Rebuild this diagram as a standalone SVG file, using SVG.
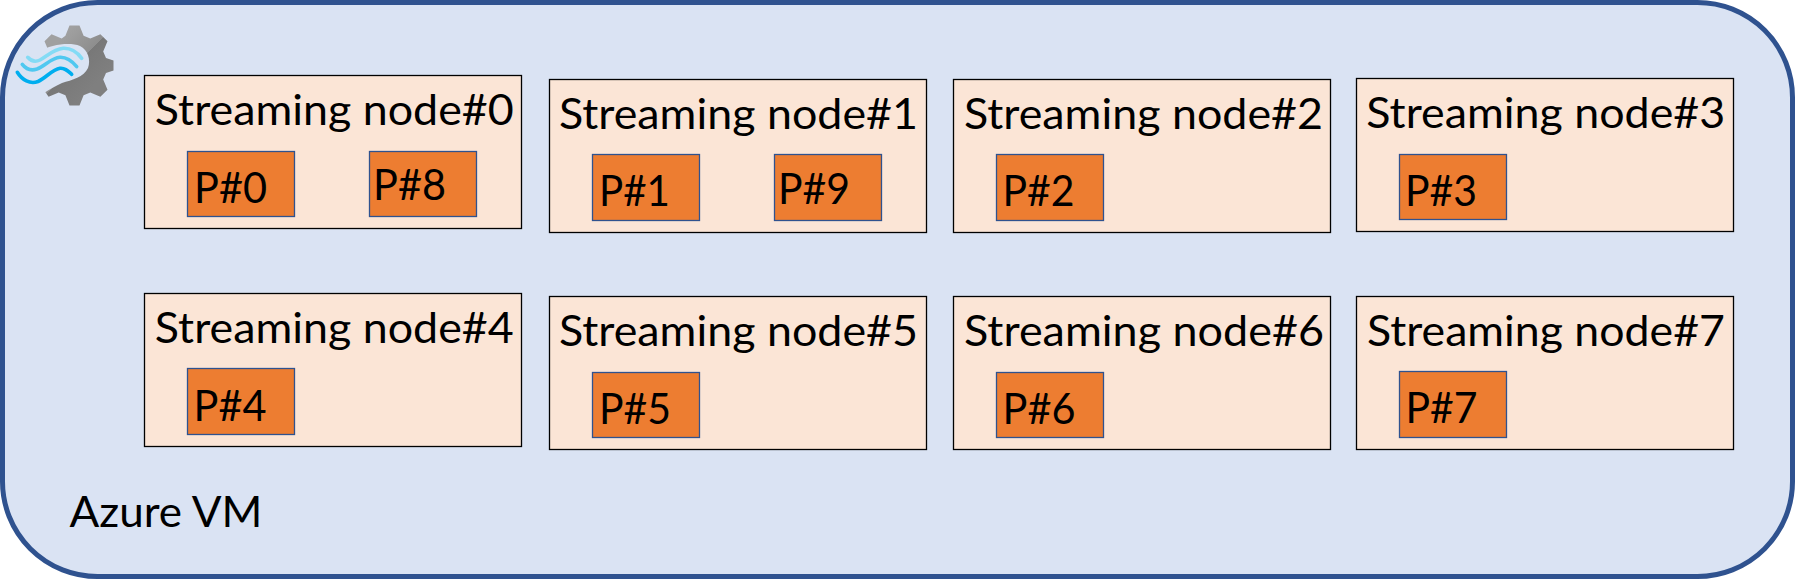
<svg xmlns="http://www.w3.org/2000/svg" width="1795" height="579" viewBox="0 0 1795 579">
<style>
.vm{fill:#DAE3F3;stroke:#2F528F;stroke-width:5}
.node{fill:#FBE5D6;stroke:#000;stroke-width:1.3}
.p{fill:#ED7D31;stroke:#2F528F;stroke-width:1.3}
text{font-family:"Lato","Liberation Sans",sans-serif;font-size:43px;fill:#000}
.w{fill:none;stroke-width:3.6;stroke-linecap:round}
</style>
<defs>
<linearGradient id="gear" gradientUnits="userSpaceOnUse" x1="50" y1="50" x2="90" y2="90">
<stop offset="0" stop-color="#a0a0a0"/><stop offset="0.5" stop-color="#8e8e8e"/><stop offset="0.5" stop-color="#787878"/><stop offset="1" stop-color="#7f7f7f"/>
</linearGradient>
</defs>
<rect id="azure-vm" class="vm" x="2.5" y="2.5" width="1790" height="574" rx="95" ry="95"/>
<g id="vm-icon">
<path fill="url(#gear)" d="M69.500 25.500L79.500 25.500L83.600 35.700L90.300 38.500L100.400 34.200L107.500 41.300L103.200 51.400L106.000 58.100L113.500 60.500L113.500 70.500L106.000 72.900L103.200 79.600L107.500 89.700L100.400 96.800L90.300 92.500L83.600 95.300L79.500 105.500L69.500 105.500L65.400 95.300L58.700 92.500L48.600 96.800L44.500 91L48.800 81L44 70L44 60L48.800 51.400L44.500 41.300L51.500 34.200L61.700 38.500L65.400 35.700Z"/>
<path fill="#DAE3F3" d="M38 52C52 44 70 42 80 46C88 50 91 60 88 68C84 77 72 80 62 83C55 86 49 90 44 93L30 93Z"/>
<path class="w" stroke="#84DBF5" d="M27.700 57.300C31 61 35 62.500 40 60C47 56 54 49 63.300 48.300C71 48 77 52 81.700 58.300"/>
<path class="w" stroke="#50C8F0" d="M22.300 64.300C26 69 31 71 37 69C45 66 51 58 60 57.300C67 57 72 61 76.700 66.700"/>
<path class="w" stroke="#00AEEF" d="M17.300 72.300C22 80 30 84.500 38 81.500C46 78 52 69.500 60 68.300C65 67.800 68 71 71.700 74.300"/>
</g>
<g id="node-0"><rect class="node" x="144.500" y="75.500" width="377" height="153"/><text x="154.800" y="125" textLength="359" lengthAdjust="spacingAndGlyphs">Streaming node#0</text></g>
<g id="p-0"><rect class="p" x="187.500" y="151.500" width="107" height="65"/><text x="194" y="203.300" textLength="73" lengthAdjust="spacingAndGlyphs">P#0</text></g>
<g id="p-8"><rect class="p" x="369.500" y="151.500" width="107" height="65"/><text x="373" y="200" textLength="73" lengthAdjust="spacingAndGlyphs">P#8</text></g>
<g id="node-1"><rect class="node" x="549.500" y="79.500" width="377" height="153"/><text x="559" y="129" textLength="359" lengthAdjust="spacingAndGlyphs">Streaming node#1</text></g>
<g id="p-1"><rect class="p" x="592.500" y="154.500" width="107" height="66"/><text x="599" y="206" textLength="71" lengthAdjust="spacingAndGlyphs">P#1</text></g>
<g id="p-9"><rect class="p" x="774.500" y="154.500" width="107" height="66"/><text x="778" y="204" textLength="72" lengthAdjust="spacingAndGlyphs">P#9</text></g>
<g id="node-2"><rect class="node" x="953.500" y="79.500" width="377" height="153"/><text x="964" y="129" textLength="359" lengthAdjust="spacingAndGlyphs">Streaming node#2</text></g>
<g id="p-2"><rect class="p" x="996.500" y="154.500" width="107" height="66"/><text x="1002.500" y="206" textLength="72" lengthAdjust="spacingAndGlyphs">P#2</text></g>
<g id="node-3"><rect class="node" x="1356.500" y="78.500" width="377" height="153"/><text x="1366.300" y="128" textLength="359" lengthAdjust="spacingAndGlyphs">Streaming node#3</text></g>
<g id="p-3"><rect class="p" x="1399.500" y="154.500" width="107" height="65"/><text x="1405" y="206" textLength="72" lengthAdjust="spacingAndGlyphs">P#3</text></g>
<g id="node-4"><rect class="node" x="144.500" y="293.500" width="377" height="153"/><text x="154.800" y="343.300" textLength="359" lengthAdjust="spacingAndGlyphs">Streaming node#4</text></g>
<g id="p-4"><rect class="p" x="187.500" y="368.500" width="107" height="66"/><text x="193.500" y="420.700" textLength="73" lengthAdjust="spacingAndGlyphs">P#4</text></g>
<g id="node-5"><rect class="node" x="549.500" y="296.500" width="377" height="153"/><text x="559" y="346" textLength="359" lengthAdjust="spacingAndGlyphs">Streaming node#5</text></g>
<g id="p-5"><rect class="p" x="592.500" y="372.500" width="107" height="65"/><text x="599" y="424.300" textLength="72" lengthAdjust="spacingAndGlyphs">P#5</text></g>
<g id="node-6"><rect class="node" x="953.500" y="296.500" width="377" height="153"/><text x="964" y="346" textLength="360" lengthAdjust="spacingAndGlyphs">Streaming node#6</text></g>
<g id="p-6"><rect class="p" x="996.500" y="372.500" width="107" height="65"/><text x="1002.500" y="424.300" textLength="73" lengthAdjust="spacingAndGlyphs">P#6</text></g>
<g id="node-7"><rect class="node" x="1356.500" y="296.500" width="377" height="153"/><text x="1367" y="346" textLength="358" lengthAdjust="spacingAndGlyphs">Streaming node#7</text></g>
<g id="p-7"><rect class="p" x="1399.500" y="371.500" width="107" height="66"/><text x="1405.500" y="423.300" textLength="72" lengthAdjust="spacingAndGlyphs">P#7</text></g>
<text id="azure-vm-label" x="69.500" y="526.700" textLength="193" lengthAdjust="spacingAndGlyphs">Azure VM</text>
</svg>
